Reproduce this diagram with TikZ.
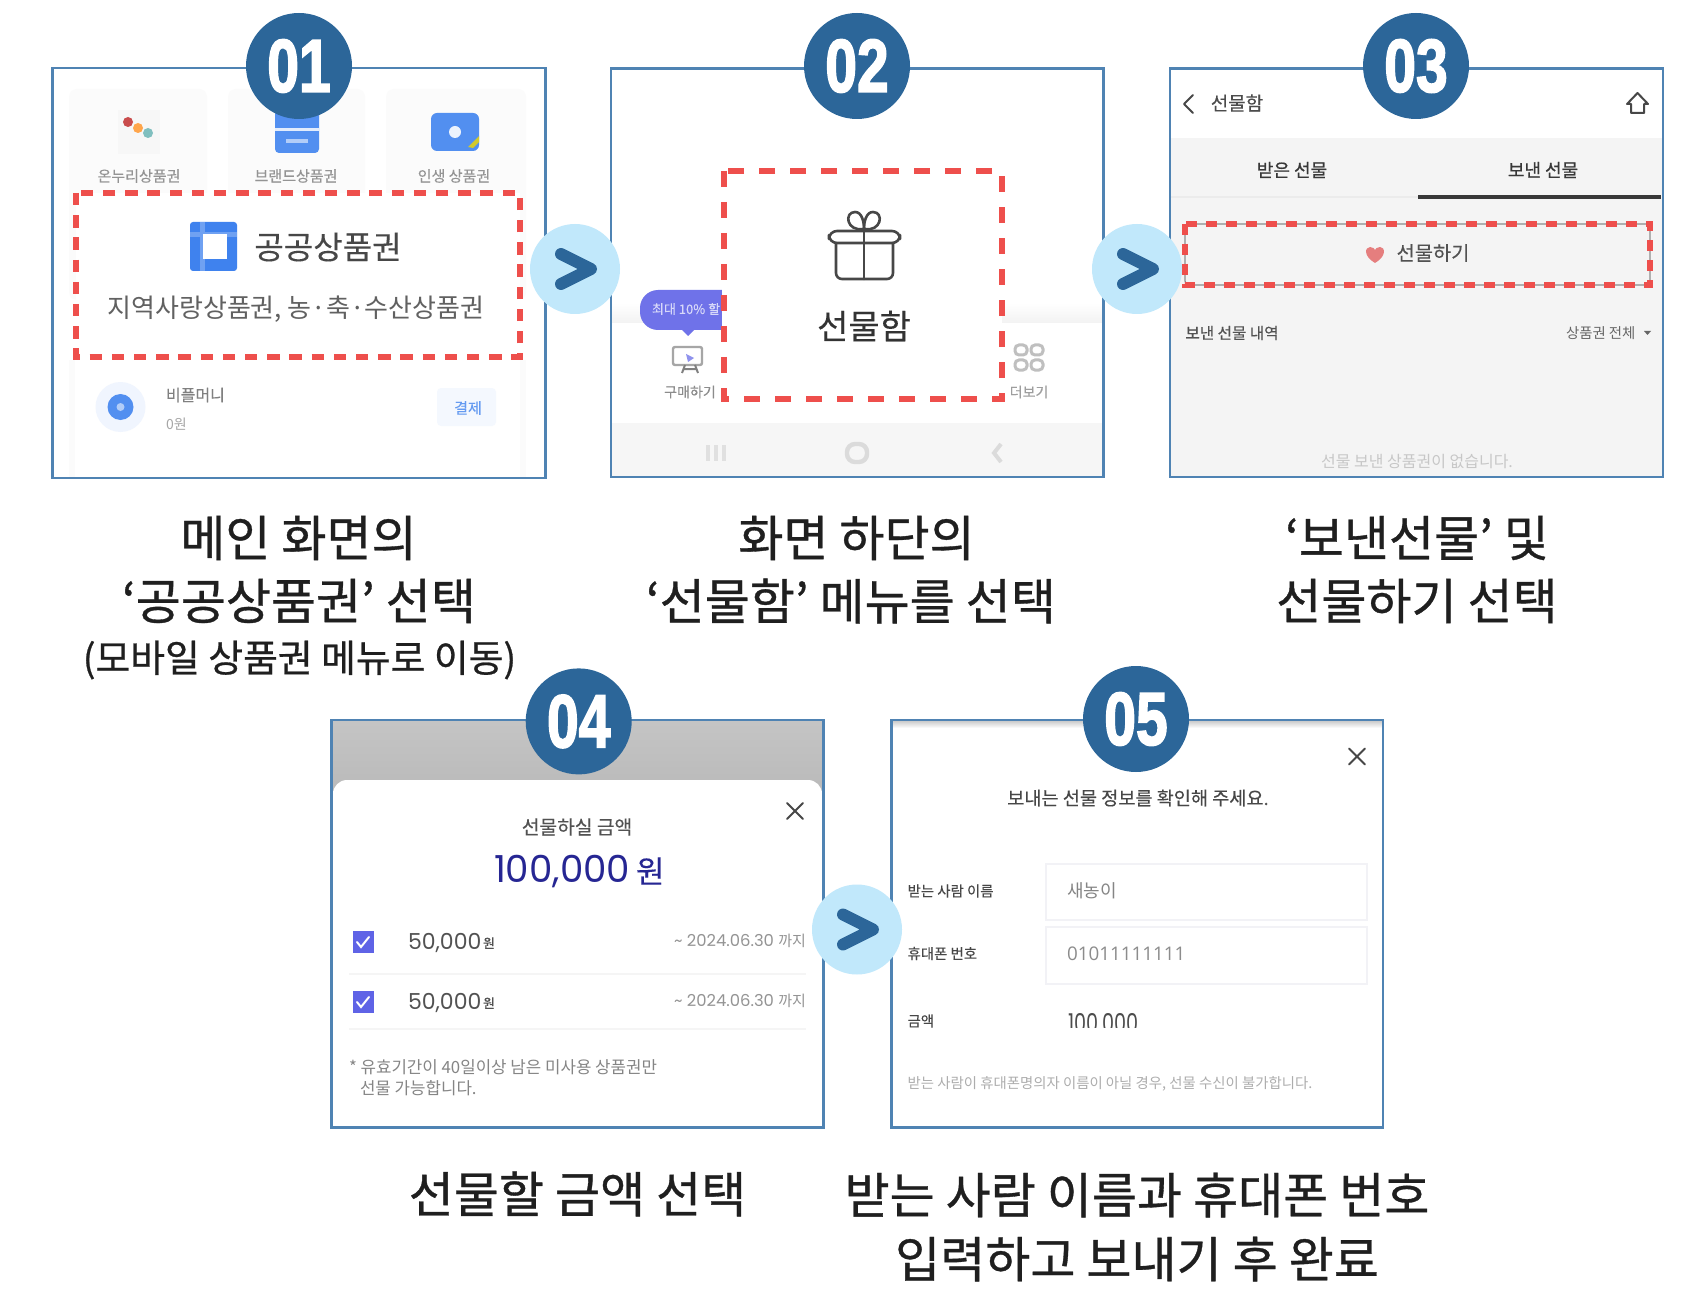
\documentclass[tikz,border=0pt]{standalone}
\usepackage{fontspec}
\setmainfont{Noto Sans CJK KR}
\newfontfamily\kr{Noto Sans CJK KR}
\newfontfamily\krm[FakeBold=0.7]{Noto Sans CJK KR}
\newfontfamily\krs[FakeBold=0.25]{Noto Sans CJK KR}
\newfontfamily\pop{Poppins}
\newfontfamily\ops{Open Sans}
\newfontfamily\lib[FakeBold=2.4]{Liberation Sans Bold}
\newcommand{\fsz}[1]{\fontsize{#1}{#1}\selectfont}
\definecolor{navy}{HTML}{2C6699}
\definecolor{sky}{HTML}{C1E8FB}
\definecolor{framec}{HTML}{4F83B3}
\definecolor{redd}{HTML}{EE4F4C}
\definecolor{uiblue}{HTML}{3F82EE}
\definecolor{violet}{HTML}{5F63E6}
\tikzset{
 tn/.style={inner sep=0pt,outer sep=0pt,text=#1},
 tn/.default=black,
 captxt/.style={tn=black!88,font=\krm\fsz{24.5}},
 subcap/.style={tn=black!88,font=\krm\fsz{18.9}},
 framebox/.style={draw=framec,line width=1.4pt,inner sep=0pt},
 badge/.style={circle,fill=navy,minimum size=53pt,inner sep=0pt,text=white,font=\lib\fsz{37.5}},
 roundc/.style={circle,fill=sky,minimum size=45pt,inner sep=0pt},
 chev/.style={draw=navy,line width=6pt,line cap=round,line join=round},
 dashbox/.style={draw=redd,line width=2.7pt},
 icon/.style={draw=black!72,line width=1.3pt,line join=round,line cap=round},
}
\newcommand{\nextmark}[3]{\node[roundc] (#1) at (#2,#3) {};
 \draw[chev,shift={(#2,#3)}] (-14,-15) -- (16,0) -- (-14,15);}
\begin{document}
\begin{tikzpicture}[x=0.5pt,y=-0.5pt]
\useasboundingbox (0,0) rectangle (1706,1310);
\fill[white] (0,0) rectangle (1706,1310);

% ---------- panel 1 content
\fill[black!1.5,rounded corners=4pt] (69,89) rectangle (207,300);
\fill[black!1.5,rounded corners=4pt] (228,89) rectangle (365,300);
\fill[black!1.5,rounded corners=4pt] (386,89) rectangle (526,300);
\fill[white] (76,193) rectangle (520,360);
\fill[white] (60,360) rectangle (535,478);
\fill[black!1.5] (69,360) rectangle (75,478);
\fill[black!1.5] (520,360) rectangle (526,478);
\fill[black!3] (118,110) rectangle (160,154);
\fill[red!70!black!70] (128,122) circle (5);
\fill[orange!70] (138,128) circle (5);
\fill[teal!50] (148,133) circle (5);
\fill[uiblue!90,rounded corners=2pt] (275,110) rectangle (319,153);
\fill[white!85!uiblue] (275,128) rectangle (319,131);
\fill[white!60!uiblue] (286,139) rectangle (308,143);
\fill[uiblue!90,rounded corners=3pt] (431,113) rectangle (479,151);
\fill[white!90!uiblue] (455,132) circle (6);
\fill[yellow!80!black] (468,147) -- (479,136) -- (479,142) -- (473,148) -- cycle;
\node[tn=black!42,font=\krs\fsz{7.5}] (t1a) at (139,176) {온누리상품권};
\node[tn=black!42,font=\krs\fsz{7.5}] (t1b) at (296,176) {브랜드상품권};
\node[tn=black!42,font=\krs\fsz{7.5}] (t1c) at (454,176) {인생 상품권};
\fill[uiblue,rounded corners=1.5pt] (190,222) rectangle (237,271);
\fill[uiblue!75!white] (190,232) rectangle (237,237);
\fill[uiblue!75!white] (200,222) rectangle (205,271);
\fill[white] (203,234) rectangle (227,259);
\node[tn=black!72,font=\krs\fsz{16}] (t1d) at (328,247) {공공상품권};
\node[tn=black!62,font=\kr\fsz{13}] (t1e) at (296,309) {지역사랑상품권, 농·축·수산상품권};
\fill[uiblue!8] (120.5,407) circle (25);
\fill[uiblue!90] (120.5,407) circle (13);
\fill[white!60!uiblue] (120.5,407) circle (4);
\node[tn=black!50,font=\krs\fsz{8},anchor=west] (t1f) at (166,395) {비플머니};
\node[tn=black!35,font=\kr\fsz{7},anchor=west] (t1g) at (166,424) {0원};
\fill[uiblue!6,rounded corners=2pt] (437,388) rectangle (496,426);
\node[tn=uiblue!80,font=\krs\fsz{7.5}] (t1h) at (468,408) {결제};

% ---------- panel 2 content
\shade[top color=white,bottom color=black!5] (612,303) rectangle (1102,323);
\fill[violet!90!white,rounded corners=9pt] (640,290) rectangle (740,330);
\fill[violet!90!white] (682,330) -- (694,330) -- (688,336) -- cycle;
\fill[white] (722,171) rectangle (1002,399);
\node[tn=white!75!violet,font=\krs\fsz{6.5},anchor=west] (t2a) at (652,309) {최대 10\% 할};
\draw[draw=black!35,line width=1.2pt,rounded corners=1pt] (673,347) rectangle (702,365);
\fill[violet!70] (686,354) -- (694,358) -- (688,362) -- cycle;
\draw[black!50,line width=1pt] (685,365) -- (682,373) (695,365) -- (698,373) (683,369) -- (697,369);
\node[tn=black!45,font=\krs\fsz{7}] (t2b) at (690,392) {구매하기};
\foreach \xx/\yy in {1021/350,1037/350,1021/365,1037/365}{\draw[black!25,line width=1.5pt,rounded corners=2pt] (\xx-6,\yy-5) rectangle (\xx+6,\yy+5);}
\node[tn=black!38,font=\krs\fsz{7}] (t2c) at (1029,392) {더보기};
\fill[black!3.5] (612,423) rectangle (1102,477);
\foreach \xx in {708,716,724}{\draw[black!12,line width=2pt] (\xx,445) -- (\xx,461);}
\draw[black!14,line width=2.2pt,rounded corners=4pt] (847,444) rectangle (867,462);
\draw[black!14,line width=2pt] (1001,444) -- (994,453) -- (1001,462);
\draw[icon] (836,243) -- (836,272) [rounded corners=3pt] -- (836,279) -- (893,279) -- (893,243);
\draw[icon,rounded corners=4pt] (829,231) rectangle (900,243);
\draw[icon] (864,231) -- (864,279);
\draw[icon] (864,229) .. controls (846,232) and (844,212) .. (855,212) .. controls (862,212) and (864,222) .. (864,229);
\draw[icon] (864,229) .. controls (882,232) and (884,212) .. (873,212) .. controls (866,212) and (864,222) .. (864,229);
\node[tn=black!80,font=\krs\fsz{17}] (t2d) at (864,326) {선물함};

% ---------- panel 3 content
\fill[black!4.5] (1171,138) rectangle (1662,477);
\draw[black!8,line width=0.6pt] (1171,197) -- (1418,197);
\draw[black!78,line width=1.6pt] (1418,197) -- (1661,197);
\draw[icon,line width=1pt] (1193,95) -- (1184,104) -- (1193,113);
\node[tn=black!70,font=\krs\fsz{9.5}] (t3a) at (1237,103) {선물함};
\draw[icon,line width=1pt] (1627,104) -- (1637.5,93) -- (1648,104) -- (1644,104) -- (1644,113) -- (1631,113) -- (1631,104) -- cycle;
\node[tn=black!78,font=\krm\fsz{9}] (t3b) at (1292,170) {받은 선물};
\node[tn=black!78,font=\krm\fsz{9}] (t3c) at (1543,170) {보낸 선물};
\draw[black!45,line width=0.6pt,rounded corners=2pt] (1185,224) rectangle (1650,285);
\fill[red!45!white!90!black] (1375,263) .. controls (1363,256) and (1365,247) .. (1370,247) .. controls (1373,247) and (1375,249) .. (1375,250) .. controls (1375,249) and (1377,247) .. (1380,247) .. controls (1385,247) and (1387,256) .. (1375,263) -- cycle;
\node[tn=black!68,font=\krs\fsz{9.9}] (t3d) at (1433,253) {선물하기};
\node[tn=black!68,font=\krs\fsz{7.8}] (t3e) at (1232,333) {보낸 선물 내역};
\node[tn=black!60,font=\kr\fsz{7.2},anchor=west] (t3f) at (1566,333) {상품권 전체};
\fill[black!60] (1644,331) -- (1651,331) -- (1647.5,335) -- cycle;
\node[tn=black!22,font=\kr\fsz{8}] (t3g) at (1417,462) {선물 보낸 상품권이 없습니다.};

% ---------- panel 4 content
\shade[top color=black!23,bottom color=black!27] (332,720) rectangle (823,790);
\fill[white,rounded corners=7pt] (333,780) -- (822,780) -- (822,1127) -- (333,1127) -- cycle;
\fill[white] (333,800) rectangle (822,1127);
\draw[icon,line width=1pt] (787,803) -- (803,819) (803,803) -- (787,819);
\node[tn=black!68,font=\krs\fsz{9.6}] (t4a) at (577,827) {선물하실 금액};
\node[tn=blue!50!black!85,font=\pop\fsz{18.6},anchor=west] (t4b) at (494,871) {100,000};
\node[tn=blue!50!black!85,font=\krs\fsz{15.5},anchor=west] (t4c) at (636,871) {원};
\foreach \yy/\nm in {942/a,1002/b}{
 \fill[violet] (352.5,\yy-11) rectangle (373.5,\yy+11);
 \draw[white,line width=1pt,line cap=round] (357,\yy) -- (361,\yy+5) -- (369,\yy-5);
 \node[tn=black!68,font=\pop\fsz{11},anchor=west] (t4d\nm) at (408,\yy+1) {50,000};
 \node[tn=black!68,font=\krs\fsz{6.5},anchor=west] (t4e\nm) at (483,\yy+1) {원};
 \node[tn=black!42,font=\pop\fsz{8.2},anchor=east] (t4f\nm) at (806,\yy-1) {\textasciitilde{} 2024.06.30 {\kr\fsz{7.5}까지}};
}
\draw[black!4,line width=0.6pt] (349,974) -- (806,974) (349,1029) -- (806,1029);
\node[tn=black!48,font=\kr\fsz{8.4},anchor=west] (t4g) at (349,1067) {* 유효기간이 40일이상 남은 미사용 상품권만};
\node[tn=black!48,font=\kr\fsz{8.4},anchor=west] (t4h) at (360,1088) {선물 가능합니다.};

% ---------- panel 5 content
\shade[top color=black!20,bottom color=white] (893,721) rectangle (1382,728);
\draw[icon,line width=1pt] (1349,748.5) -- (1365,764.5) (1365,748.5) -- (1349,764.5);
\node[tn=black!72,font=\krs\fsz{9.3}] (t5a) at (1138,798) {보내는 선물 정보를 확인해 주세요.};
\draw[blue!30!black!5,line width=1pt] (1046,864) rectangle (1367,920);
\draw[blue!30!black!5,line width=1pt] (1046,927) rectangle (1367,984);
\node[tn=black!72,font=\krs\fsz{7.2},anchor=west] (t5b) at (907.6,891) {받는 사람 이름};
\node[tn=black!72,font=\krs\fsz{7.2},anchor=west] (t5c) at (907.6,953.5) {휴대폰 번호};
\node[tn=black!72,font=\krs\fsz{7.2},anchor=west] (t5d) at (907.6,1021) {금액};
\node[tn=black!48,font=\kr\fsz{9},anchor=west] (t5e) at (1067,891) {새농이};
\node[tn=black!45,font=\ops\fsz{9.4},anchor=west] (t5f) at (1067,953.5) {01011111111};
\begin{scope}
\clip (1060,1010) rectangle (1150,1027);
\node[tn=black!70,font=\pop\fsz{9.6},anchor=west] (t5g) at (1068,1024.5) {\scalebox{1}[1.35]{100,000}};
\end{scope}
\node[tn=black!32,font=\kr\fsz{7.2},anchor=west] (t5h) at (907.6,1084) {받는 사람이 휴대폰명의자 이름이 아닐 경우, 선물 수신이 불가합니다.};

% ---------- frames
\node[framebox,minimum width=246.5pt,minimum height=205pt] (f1) at (299.3,273) {};
\node[framebox,minimum width=246.2pt,minimum height=204.3pt] (f2) at (857.2,272.7) {};
\node[framebox,minimum width=246.5pt,minimum height=204.3pt] (f3) at (1416.5,272.7) {};
\node[framebox,minimum width=246pt,minimum height=203.8pt] (f4) at (577.5,923.8) {};
\node[framebox,minimum width=245.8pt,minimum height=203.8pt] (f5) at (1137.2,923.8) {};

% ---------- dashed highlights
\draw[dashbox,dash pattern=on 6.2pt off 4.9pt] (76,193) rectangle (520,357);
\draw[dashbox,line width=3pt,dash pattern=on 8.2pt off 7.3pt] (724,171) rectangle (1002,399);
\draw[dashbox,line width=3.2pt,dash pattern=on 5.6pt off 4.4pt] (1185,224) rectangle (1650,285);

% ---------- badges
\node[badge] (b1) at (299,66) {\scalebox{.76}[1]{01}};
\node[badge] (b2) at (857,66) {\scalebox{.76}[1]{02}};
\node[badge] (b3) at (1416,66) {\scalebox{.76}[1]{03}};
\node[badge] (b4) at (578.7,721.4) {\scalebox{.76}[1]{04}};
\node[badge] (b5) at (1136,719) {\scalebox{.76}[1]{05}};

% ---------- next marks
\nextmark{a1}{575}{269}
\nextmark{a2}{1137}{269}
\nextmark{a3}{857}{929.5}

% ---------- captions
\node[captxt] (c1a) at (298.5,538) {메인 화면의};
\node[captxt] (c1b) at (299,601) {‘공공상품권’ 선택};
\node[subcap] (c1c) at (299.5,660) {(모바일 상품권 메뉴로 이동)};
\node[captxt] (c2a) at (856.5,538) {화면 하단의};
\node[captxt] (c2b) at (851,601) {‘선물함’ 메뉴를 선택};
\node[captxt] (c3a) at (1417,538) {‘보낸선물’ 및};
\node[captxt] (c3b) at (1417,601) {선물하기 선택};
\node[captxt] (c4a) at (577.5,1194) {선물할 금액 선택};
\node[captxt] (c5a) at (1137,1195) {받는 사람 이름과 휴대폰 번호};
\node[captxt] (c5b) at (1137,1259) {입력하고 보내기 후 완료};
\end{tikzpicture}
\end{document}
